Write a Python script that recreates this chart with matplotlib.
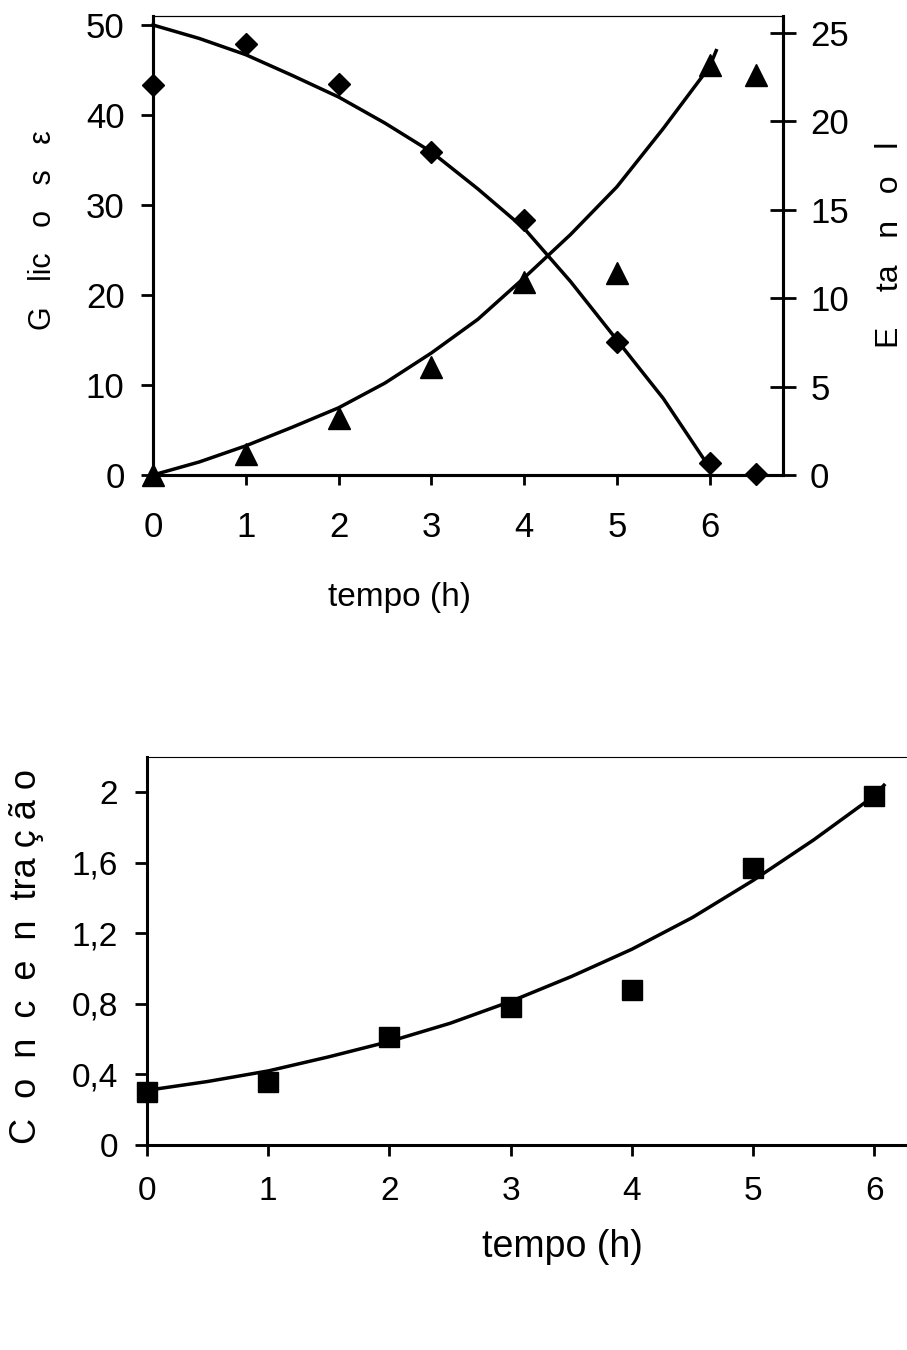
import matplotlib
matplotlib.use("Agg")
import matplotlib.pyplot as plt

plt.rcParams['font.family'] = ['Liberation Sans', 'DejaVu Sans']

# ---- data: top chart ----
tempo = [0, 1, 2, 3, 4, 5, 6, 6.5]
glicose = [43.3, 47.9, 43.4, 35.9, 28.3, 14.8, 1.3, 0.1]
etanol = [0.0, 1.2, 3.2, 6.1, 10.9, 11.4, 23.2, 22.6]

tempo_fit = [0, 0.5, 1, 1.5, 2, 2.5, 3, 3.5, 4, 4.5, 5, 5.5, 6]
glicose_fit = [50.0, 48.5, 46.7, 44.4, 42.0, 39.1, 35.9, 31.8, 27.4, 21.5, 15.0, 8.5, 0.8]
tempo_fit_et = [0, 0.5, 1, 1.5, 2, 2.5, 3, 3.5, 4, 4.5, 5, 5.5, 6, 6.07]
etanol_fit = [0.0, 0.74, 1.65, 2.7, 3.8, 5.2, 6.9, 8.8, 11.15, 13.6, 16.3, 19.6, 23.1, 24.0]

# ---- data: bottom chart ----
tempo_b = [0, 1, 2, 3, 4, 5, 6]
concentracao = [0.30, 0.36, 0.61, 0.78, 0.88, 1.57, 1.98]
tempo_b_fit = [0, 0.5, 1, 1.5, 2, 2.5, 3, 3.5, 4, 4.5, 5, 5.5, 6, 6.08]
conc_fit = [0.31, 0.36, 0.42, 0.50, 0.587, 0.69, 0.814, 0.955, 1.11, 1.29, 1.50, 1.73, 1.98, 2.04]

top_xticks = [0, 1, 2, 3, 4, 5, 6]
left_yticks = [0, 10, 20, 30, 40, 50]
right_yticks = [0, 5, 10, 15, 20, 25]
bot_yticks = [0, 0.4, 0.8, 1.2, 1.6, 2.0]
bot_yticklabels = ['0', '0,4', '0,8', '1,2', '1,6', '2']

W, H = 907, 1350
fig = plt.figure(figsize=(W / 100, H / 100), dpi=100)

def frac(l, t, r, b):
    return [l / W, 1 - b / H, (r - l) / W, (b - t) / H]

LW = 2.5

# ================= TOP CHART =================
ax = fig.add_axes(frac(153, 16, 783, 475))
ax2 = ax.twinx()

ax.plot(tempo_fit, glicose_fit, color='black', lw=LW, clip_on=False,
        solid_joinstyle='round')
ax.plot(tempo, glicose, linestyle='none', marker='D', ms=11.5, color='black', clip_on=False, zorder=5)
ax2.plot(tempo_fit_et, etanol_fit, color='black', lw=LW, clip_on=False,
         solid_joinstyle='round')
ax2.plot(tempo, etanol, linestyle='none', marker='^', ms=16.5, color='black', clip_on=False, zorder=5)

ax.set_xlim(0, 6.79)
ax.set_ylim(0, 51.0)
ax2.set_ylim(0, 25.96)

ax.set_xticks(top_xticks)
ax.set_yticks(left_yticks)
ax2.set_yticks(right_yticks)

for a in (ax, ax2):
    for s in a.spines.values():
        s.set_linewidth(2.2)
    a.spines['top'].set_linewidth(0.8)

ax.tick_params(axis='x', direction='out', length=7, width=2, labelsize=25, pad=19)
ax.tick_params(axis='y', direction='out', length=8.5, width=2, labelsize=25, pad=12)
ax2.tick_params(axis='y', direction='inout', length=19, width=2, labelsize=25, pad=10)

ax.set_xlabel('tempo (h)', fontsize=24)
ax.xaxis.set_label_coords(0.392, -0.266)
ax.xaxis.label.set_va('center')
ax.set_ylabel('G   lic   o   s   ε', fontsize=22)
ax.yaxis.set_label_coords(-0.175, 0.534)
ax.yaxis.label.set_va('center')
ax2.set_ylabel('E    ta   n   o   l', fontsize=23, rotation=90)
ax2.yaxis.set_label_coords(1.170, 0.501)
ax2.yaxis.label.set_va('center')

# ================= BOTTOM CHART =================
bx = fig.add_axes(frac(147, 757, 907, 1145))
bx.plot(tempo_b_fit, conc_fit, color='black', lw=LW, clip_on=False,
        solid_joinstyle='round')
bx.plot(tempo_b, concentracao, linestyle='none', marker='s', ms=15, color='black', clip_on=False, zorder=5)
bx.set_xlim(0, 6.27)
bx.set_ylim(0, 2.2)
bx.set_xticks(top_xticks)
bx.set_yticks(bot_yticks)
bx.set_yticklabels(bot_yticklabels)
for s in bx.spines.values():
    s.set_linewidth(2.2)
bx.spines['top'].set_linewidth(0.8)
bx.spines['right'].set_visible(False)
bx.tick_params(axis='x', direction='out', length=8, width=2, labelsize=24, pad=14)
bx.tick_params(axis='y', direction='out', length=9, width=2, labelsize=24, pad=12)
bx.set_xlabel('tempo (h)', fontsize=27)
bx.xaxis.set_label_coords(0.546, -0.263)
bx.xaxis.label.set_va('center')
bx.set_ylabel('C  o  n  c  e  n  tra ç ã o', fontsize=26)
bx.yaxis.set_label_coords(-0.158, 0.485)
bx.yaxis.label.set_va('center')

fig.savefig('out.png', dpi=100, facecolor='white')
